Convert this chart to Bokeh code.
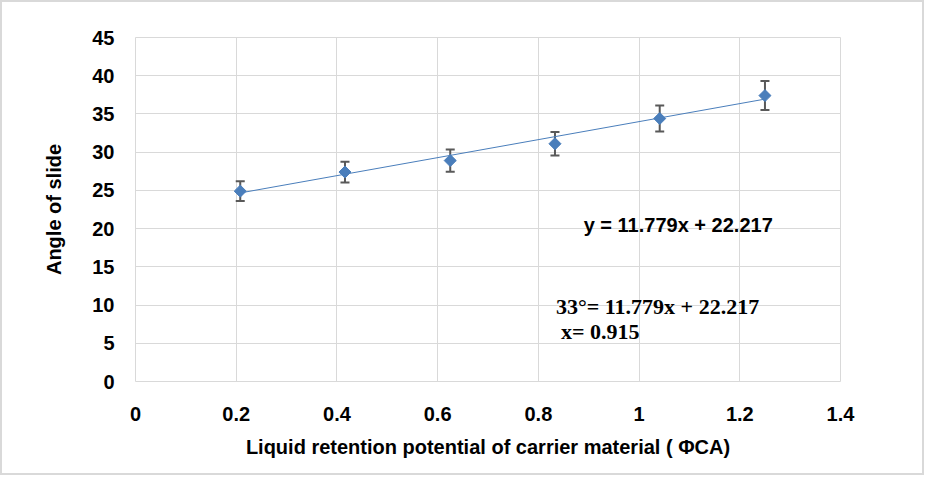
import numpy as np
from bokeh.plotting import figure
from bokeh.models import ColumnDataSource, Whisker, TeeHead, Label, FixedTicker, Range1d
from bokeh.embed import file_html
from bokeh.resources import INLINE

# data
x_vals = [0.208, 0.416, 0.625, 0.833, 1.041, 1.25]
y_vals = [24.9, 27.4, 28.9, 31.1, 34.4, 37.4]
err = [1.28, 1.36, 1.45, 1.55, 1.7, 1.9]
slope = 11.779
intercept = 22.217
x_ticks = [0, 0.2, 0.4, 0.6, 0.8, 1.0, 1.2, 1.4]
x_tick_labels = ["0", "0.2", "0.4", "0.6", "0.8", "1", "1.2", "1.4"]
y_ticks = [0, 5, 10, 15, 20, 25, 30, 35, 40, 45]
eq_text = "y = 11.779x + 22.217"
calc_text1 = "33\u00b0= 11.779x + 22.217"
calc_text2 = "x= 0.915"

BLUE = "#4a7ebb"
GRID = "#d9d9d9"
FONT = "Arial"

p = figure(width=924, height=475, output_backend="svg", toolbar_location=None,
           x_range=Range1d(0, 1.4), y_range=Range1d(0, 45),
           min_border_left=133, min_border_right=86, min_border_top=35, min_border_bottom=96)
p.styles = {"border": "2px solid #d9d9d9"}
p.outline_line_color = GRID
p.outline_line_width = 1

for ax in (p.xaxis[0], p.yaxis[0]):
    ax.axis_line_color = None
    ax.major_tick_line_color = None
    ax.minor_tick_line_color = None
    ax.major_label_text_font = FONT
    ax.major_label_text_font_style = "bold"
    ax.major_label_text_font_size = "20px"
    ax.major_label_text_color = "#000000"
    ax.axis_label_text_font = FONT
    ax.axis_label_text_font_style = "bold"
    ax.axis_label_text_font_size = "20px"
    ax.axis_label_text_color = "#000000"

p.xaxis.ticker = FixedTicker(ticks=x_ticks)
p.xaxis.major_label_overrides = {t: l for t, l in zip(x_ticks, x_tick_labels)}
p.yaxis.ticker = FixedTicker(ticks=y_ticks)
p.xaxis.major_label_standoff = 19
p.yaxis.major_label_standoff = 15
p.xaxis.axis_label = "Liquid retention potential of carrier material ( \u03a6CA)"
p.yaxis.axis_label = "Angle of slide"
p.xaxis.axis_label_standoff = 12
p.yaxis.axis_label_standoff = 24

p.xgrid.ticker = FixedTicker(ticks=x_ticks)
p.ygrid.ticker = FixedTicker(ticks=y_ticks)
p.grid.grid_line_color = GRID
p.grid.grid_line_width = 1

# trendline
xs_fit = np.array([x_vals[0], x_vals[-1]])
p.line(xs_fit, slope * xs_fit + intercept, line_color=BLUE, line_width=1)

src = ColumnDataSource(dict(
    x=x_vals, y=y_vals,
    lower=[y - e for y, e in zip(y_vals, err)],
    upper=[y + e for y, e in zip(y_vals, err)],
))
wh = Whisker(base="x", lower="lower", upper="upper", source=src,
             line_color="#595959", line_width=2,
             upper_head=TeeHead(size=9, line_color="#595959", line_width=2),
             lower_head=TeeHead(size=9, line_color="#595959", line_width=2))
p.add_layout(wh)

p.scatter("x", "y", source=src, marker="square", angle=np.pi / 4, size=8.5,
          fill_color=BLUE, line_color=BLUE)

p.add_layout(Label(x=0.890, y=20.5, text=eq_text, text_font=FONT, text_font_style="bold",
                   text_font_size="20px", text_baseline="middle", text_align="left",
                   text_color="#000000"))
p.add_layout(Label(x=0.835, y=9.8, text=calc_text1, text_font="Liberation Serif",
                   text_font_style="bold", text_font_size="22px", text_baseline="middle",
                   text_align="left", text_color="#000000"))
p.add_layout(Label(x=0.845, y=6.5, text=calc_text2, text_font="Liberation Serif",
                   text_font_style="bold", text_font_size="22px", text_baseline="middle",
                   text_align="left", text_color="#000000"))

open("out.html", "w").write(file_html(p, INLINE))
